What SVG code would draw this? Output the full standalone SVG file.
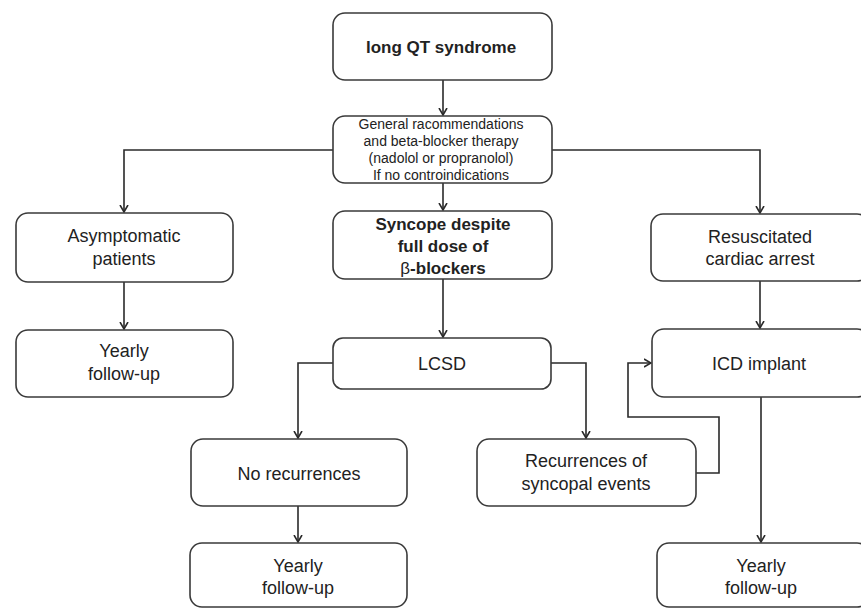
<svg xmlns="http://www.w3.org/2000/svg" width="861" height="609" viewBox="0 0 861 609">
<style>
.box{fill:#fff;stroke:#3a3a3a;stroke-width:1.6}
.t{font-family:"Liberation Sans",Arial,sans-serif;font-size:18px;fill:#222;text-anchor:middle}
.b{font-weight:bold;font-size:17px}
.s{font-size:14px}
.c{fill:none;stroke:#2a2a2a;stroke-width:1.6}
</style>
<defs>
<marker id="ah" viewBox="0 0 8 10" refX="7.5" refY="5" markerWidth="8" markerHeight="10" markerUnits="userSpaceOnUse" orient="auto">
<path d="M0.5,1 L7.5,5 L0.5,9" fill="none" stroke="#2a2a2a" stroke-width="1.6"/>
</marker>
</defs>
<rect width="861" height="609" fill="#fff"/>
<g id="connectors">
<path class="c" d="M443,80 V115" marker-end="url(#ah)"/>
<path class="c" d="M333,150 H124 V212" marker-end="url(#ah)"/>
<path class="c" d="M552,150 H760 V213" marker-end="url(#ah)"/>
<path class="c" d="M443,183 V210" marker-end="url(#ah)"/>
<path class="c" d="M124,282 V329" marker-end="url(#ah)"/>
<path class="c" d="M443,279 V337" marker-end="url(#ah)"/>
<path class="c" d="M333,363 H298 V438" marker-end="url(#ah)"/>
<path class="c" d="M551,363 H586 V438" marker-end="url(#ah)"/>
<path class="c" d="M760,281 V328" marker-end="url(#ah)"/>
<path class="c" d="M696,473 H719 V417 H628 V363 H651" marker-end="url(#ah)"/>
<path class="c" d="M761,397 V542" marker-end="url(#ah)"/>
<path class="c" d="M298,506 V542" marker-end="url(#ah)"/>
</g>
<g id="n_lqts">
<rect class="box" x="333" y="13" width="219" height="67" rx="12"/>
<text class="t b" x="441" y="53">long QT syndrome</text>
</g>
<g id="n_general">
<rect class="box" x="333" y="116" width="219" height="67" rx="12"/>
<text class="t s" x="441" y="129">General racommendations</text>
<text class="t s" x="441" y="146">and beta-blocker therapy</text>
<text class="t s" x="441" y="163">(nadolol or propranolol)</text>
<text class="t s" x="441" y="180">If no controindications</text>
</g>
<g id="n_asym">
<rect class="box" x="16" y="213" width="217" height="69" rx="12"/>
<text class="t" x="124" y="242">Asymptomatic</text>
<text class="t" x="124" y="265">patients</text>
</g>
<g id="n_syncope">
<rect class="box" x="333" y="211" width="219" height="68" rx="12"/>
<text class="t b" x="443" y="230">Syncope despite</text>
<text class="t b" x="443" y="252">full dose of</text>
<text class="t b" x="443" y="274"><tspan font-weight="normal">β</tspan>-blockers</text>
</g>
<g id="n_resus">
<rect class="box" x="651" y="214" width="218" height="67" rx="12"/>
<text class="t" x="760" y="243">Resuscitated</text>
<text class="t" x="760" y="265">cardiac arrest</text>
</g>
<g id="n_yearly1">
<rect class="box" x="16" y="330" width="217" height="67" rx="12"/>
<text class="t" x="124" y="357">Yearly</text>
<text class="t" x="124" y="380">follow-up</text>
</g>
<g id="n_lcsd">
<rect class="box" x="333" y="338" width="218" height="51" rx="10"/>
<text class="t" x="442" y="370">LCSD</text>
</g>
<g id="n_icd">
<rect class="box" x="652" y="329" width="217" height="68" rx="12"/>
<text class="t" x="759" y="370">ICD implant</text>
</g>
<g id="n_norec">
<rect class="box" x="191" y="439" width="216" height="67" rx="12"/>
<text class="t" x="299" y="480">No recurrences</text>
</g>
<g id="n_rec">
<rect class="box" x="477" y="439" width="219" height="67" rx="12"/>
<text class="t" x="586" y="467">Recurrences of</text>
<text class="t" x="586" y="490">syncopal events</text>
</g>
<g id="n_yearly2">
<rect class="box" x="190" y="543" width="217" height="64" rx="12"/>
<text class="t" x="298" y="572">Yearly</text>
<text class="t" x="298" y="594">follow-up</text>
</g>
<g id="n_yearly3">
<rect class="box" x="657" y="543" width="212" height="64" rx="12"/>
<text class="t" x="761" y="572">Yearly</text>
<text class="t" x="761" y="594">follow-up</text>
</g>
</svg>
